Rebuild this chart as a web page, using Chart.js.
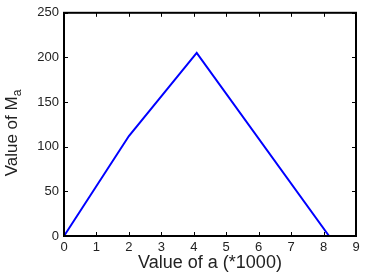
<!DOCTYPE html>
<html>
<head>
<meta charset="utf-8">
<script src="https://cdn.jsdelivr.net/npm/chart.js@4/dist/chart.umd.min.js"></script>
<style>
  html, body { margin: 0; padding: 0; background: #fff; }
  #wrap { width: 373px; height: 276px; }
</style>
</head>
<body>
<div id="wrap"><canvas id="c"></canvas></div>
<script>
// data
const aValues = [0, 2, 4.09, 8.17];
const maValues = [0, 112, 205, 0];
const xTicks = [0, 1, 2, 3, 4, 5, 6, 7, 8, 9];
const yTicks = [0, 50, 100, 150, 200, 250];

const fontFamily = '"Liberation Sans", Arial, sans-serif';

// matlab style box with inward ticks plus axis titles
const matlabAxes = {
  id: 'matlabAxes',
  afterDraw(chart) {
    const { ctx, chartArea: a, scales } = chart;
    ctx.save();
    ctx.strokeStyle = '#000';
    ctx.lineWidth = 1;
    ctx.beginPath();
    xTicks.forEach(v => {
      const x = Math.round(scales.x.getPixelForValue(v)) + 0.5;
      ctx.moveTo(x, a.bottom); ctx.lineTo(x, a.bottom - 4);
      ctx.moveTo(x, a.top); ctx.lineTo(x, a.top + 4);
    });
    yTicks.forEach(v => {
      const y = Math.round(scales.y.getPixelForValue(v)) + 0.5;
      ctx.moveTo(a.left, y); ctx.lineTo(a.left + 4, y);
      ctx.moveTo(a.right, y); ctx.lineTo(a.right - 4, y);
    });
    ctx.stroke();
    ctx.lineWidth = 2;
    ctx.strokeRect(a.left, a.top, a.right - a.left, a.bottom - a.top);

    ctx.fillStyle = '#222';
    // x title
    ctx.font = '18px ' + fontFamily;
    ctx.textAlign = 'center';
    ctx.textBaseline = 'middle';
    ctx.fillText('Value of a (*1000)', (a.left + a.right) / 2, 263);

    // y title with subscript
    ctx.translate(12, 133);
    ctx.rotate(-Math.PI / 2);
    const main = 'Value of M';
    const sub = 'a';
    ctx.font = '17px ' + fontFamily;
    const w1 = ctx.measureText(main).width;
    ctx.font = '12px ' + fontFamily;
    const w2 = ctx.measureText(sub).width;
    const start = -(w1 + w2) / 2;
    ctx.textAlign = 'left';
    ctx.font = '17px ' + fontFamily;
    ctx.fillText(main, start, 0);
    ctx.font = '12px ' + fontFamily;
    ctx.fillText(sub, start + w1, 6);
    ctx.restore();
  }
};

new Chart(document.getElementById('c'), {
  type: 'line',
  data: {
    datasets: [{
      data: aValues.map((x, i) => ({ x, y: maValues[i] })),
      borderColor: '#0000ff',
      borderWidth: 2,
      pointRadius: 0,
      tension: 0,
      fill: false
    }]
  },
  options: {
    responsive: true,
    maintainAspectRatio: false,
    animation: false,
    layout: { padding: { top: 4, right: 17, left: 0, bottom: 0 } },
    plugins: { legend: { display: false }, tooltip: { enabled: false } },
    scales: {
      x: {
        type: 'linear',
        min: 0,
        max: 9,
        afterBuildTicks: s => { s.ticks = xTicks.map(v => ({ value: v })); },
        afterFit: s => { s.height = 40; },
        grid: { display: false, drawTicks: false },
        border: { display: false },
        ticks: { color: '#222', padding: 4, maxRotation: 0, font: { size: 13, family: fontFamily } }
      },
      y: {
        min: 0,
        max: 250,
        afterBuildTicks: s => { s.ticks = yTicks.map(v => ({ value: v })); },
        afterFit: s => { s.width = 64; },
        grid: { display: false, drawTicks: false },
        border: { display: false },
        ticks: { color: '#222', padding: 5, font: { size: 13, family: fontFamily } }
      }
    }
  },
  plugins: [matlabAxes]
});
</script>
</body>
</html>
